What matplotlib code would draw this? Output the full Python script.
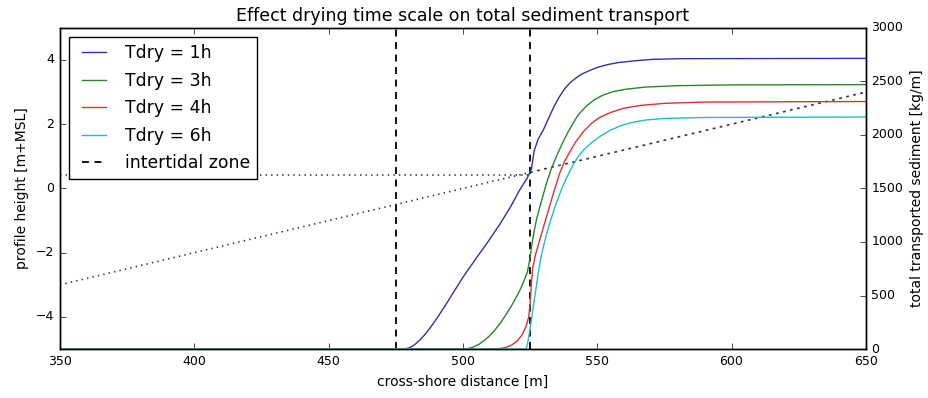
"""Cumulative sediment transport across the profile for several drying time scales."""

import matplotlib

matplotlib.use("Agg")

import matplotlib.pyplot as plt
from matplotlib.lines import Line2D

plt.style.use("classic")

# bed profile (left axis), split at the upper edge of the intertidal zone
profile_wet_x = [350, 525]
profile_wet_z = [-3.0, 0.5]
profile_dry_x = [525, 650]
profile_dry_z = [0.5, 3.0]
# still water level
water_x = [350, 525]
water_z = [0.42, 0.42]
intertidal_x = [475, 525]

# total transported sediment (right axis)
x_1h = [350, 478, 480, 482, 484, 486, 488, 490, 493, 496, 500, 505, 509, 514,
        518, 521, 524, 525.5, 526.5, 528, 530, 532, 534, 536, 538, 540, 542,
        544, 547, 550, 554, 558, 563, 570, 580, 650]
s_1h = [0, 0, 10, 40, 85, 140, 205, 275, 390, 510, 670, 850, 990, 1175,
        1340, 1480, 1600, 1680, 1850, 1960, 2050, 2160, 2270, 2360, 2435, 2490,
        2530, 2565, 2600, 2630, 2658, 2676, 2690, 2705, 2712, 2715]

x_3h = [350, 500, 502, 504, 506, 508, 510, 512, 514, 516, 518, 520, 522, 524,
        525, 525.5, 526.5, 527.5, 529, 531, 533, 535, 537, 539, 541, 543, 546,
        549, 552, 556, 561, 568, 580, 600, 650]
s_3h = [0, 0, 5, 20, 45, 80, 125, 180, 245, 320, 400, 490, 590, 720,
        850, 950, 1100, 1220, 1360, 1540, 1690, 1810, 1920, 2020, 2110, 2190, 2270,
        2330, 2370, 2405, 2428, 2447, 2460, 2467, 2470]

x_4h = [350, 512, 514, 516, 518, 520, 522, 523.5, 524.5, 525, 525.5, 526, 527,
        528.5, 530, 532, 534, 536, 538, 540, 542, 545, 548, 551, 555, 560, 566,
        575, 590, 650]
s_4h = [0, 0, 5, 15, 35, 70, 130, 210, 300, 420, 620, 760, 880,
        1010, 1140, 1310, 1480, 1640, 1760, 1850, 1935, 2035, 2110, 2165, 2210,
        2250, 2275, 2295, 2307, 2312]

x_6h = [350, 523.5, 524, 525, 526, 527, 528, 529, 530, 531, 533, 535, 537, 539,
        541, 543, 545, 548, 551, 555, 559, 563, 568, 575, 590, 650]
s_6h = [0, 0, 40, 190, 360, 530, 700, 850, 960, 1060, 1230, 1380, 1510, 1620,
        1720, 1800, 1860, 1930, 1985, 2045, 2088, 2117, 2139, 2154, 2163, 2167]

series = [
    ("Tdry = 1h", x_1h, s_1h, "#3030b0"),
    ("Tdry = 3h", x_3h, s_3h, "#2a862a"),
    ("Tdry = 4h", x_4h, s_4h, "#e03030"),
    ("Tdry = 6h", x_6h, s_6h, "#20c0c0"),
]

fig, ax = plt.subplots(figsize=(9.29, 3.98), dpi=100)
fig.patch.set_facecolor("white")
fig.subplots_adjust(left=0.0646, right=0.932, bottom=0.123, top=0.930)

ax.plot(profile_wet_x, profile_wet_z, color="#333344", linestyle=":", linewidth=1.2)
ax.plot(profile_dry_x, profile_dry_z, color="#333355", linestyle=(0, (2.0, 3.2)),
        linewidth=1.2)
ax.plot(water_x, water_z, color="#333344", linestyle=":", linewidth=1.2)
for xv in intertidal_x:
    ax.axvline(xv, color="k", linestyle="--", linewidth=1.3, dashes=(5, 4))
ax.set_xlim(350, 650)
ax.set_ylim(-5, 5)
ax.set_yticks([-4, -2, 0, 2, 4])
ax.set_xlabel("cross-shore distance [m]", fontsize=10)
ax.set_ylabel("profile height [m+MSL]", fontsize=10)
ax.tick_params(labelsize=9)
ax.set_title("Effect drying time scale on total sediment transport", fontsize=12.5)

ax2 = ax.twinx()
handles = []
for label, xs, ss, color in series:
    (line,) = ax2.plot(xs, ss, color=color, linewidth=1.0, label=label)
    handles.append(line)
ax2.set_ylim(0, 3000)
ax2.set_xlim(350, 650)
ax2.set_ylabel("total transported sediment [kg/m]", fontsize=10)
ax2.tick_params(labelsize=9)

handles.append(Line2D([], [], color="k", linestyle="--", linewidth=1.3,
                      dashes=(5, 4), label="intertidal zone"))
ax2.legend(handles=handles, loc="upper left", fontsize=12.4, borderaxespad=0.55,
           labelspacing=0.55)

fig.savefig("out.png", dpi=100, facecolor="white")
